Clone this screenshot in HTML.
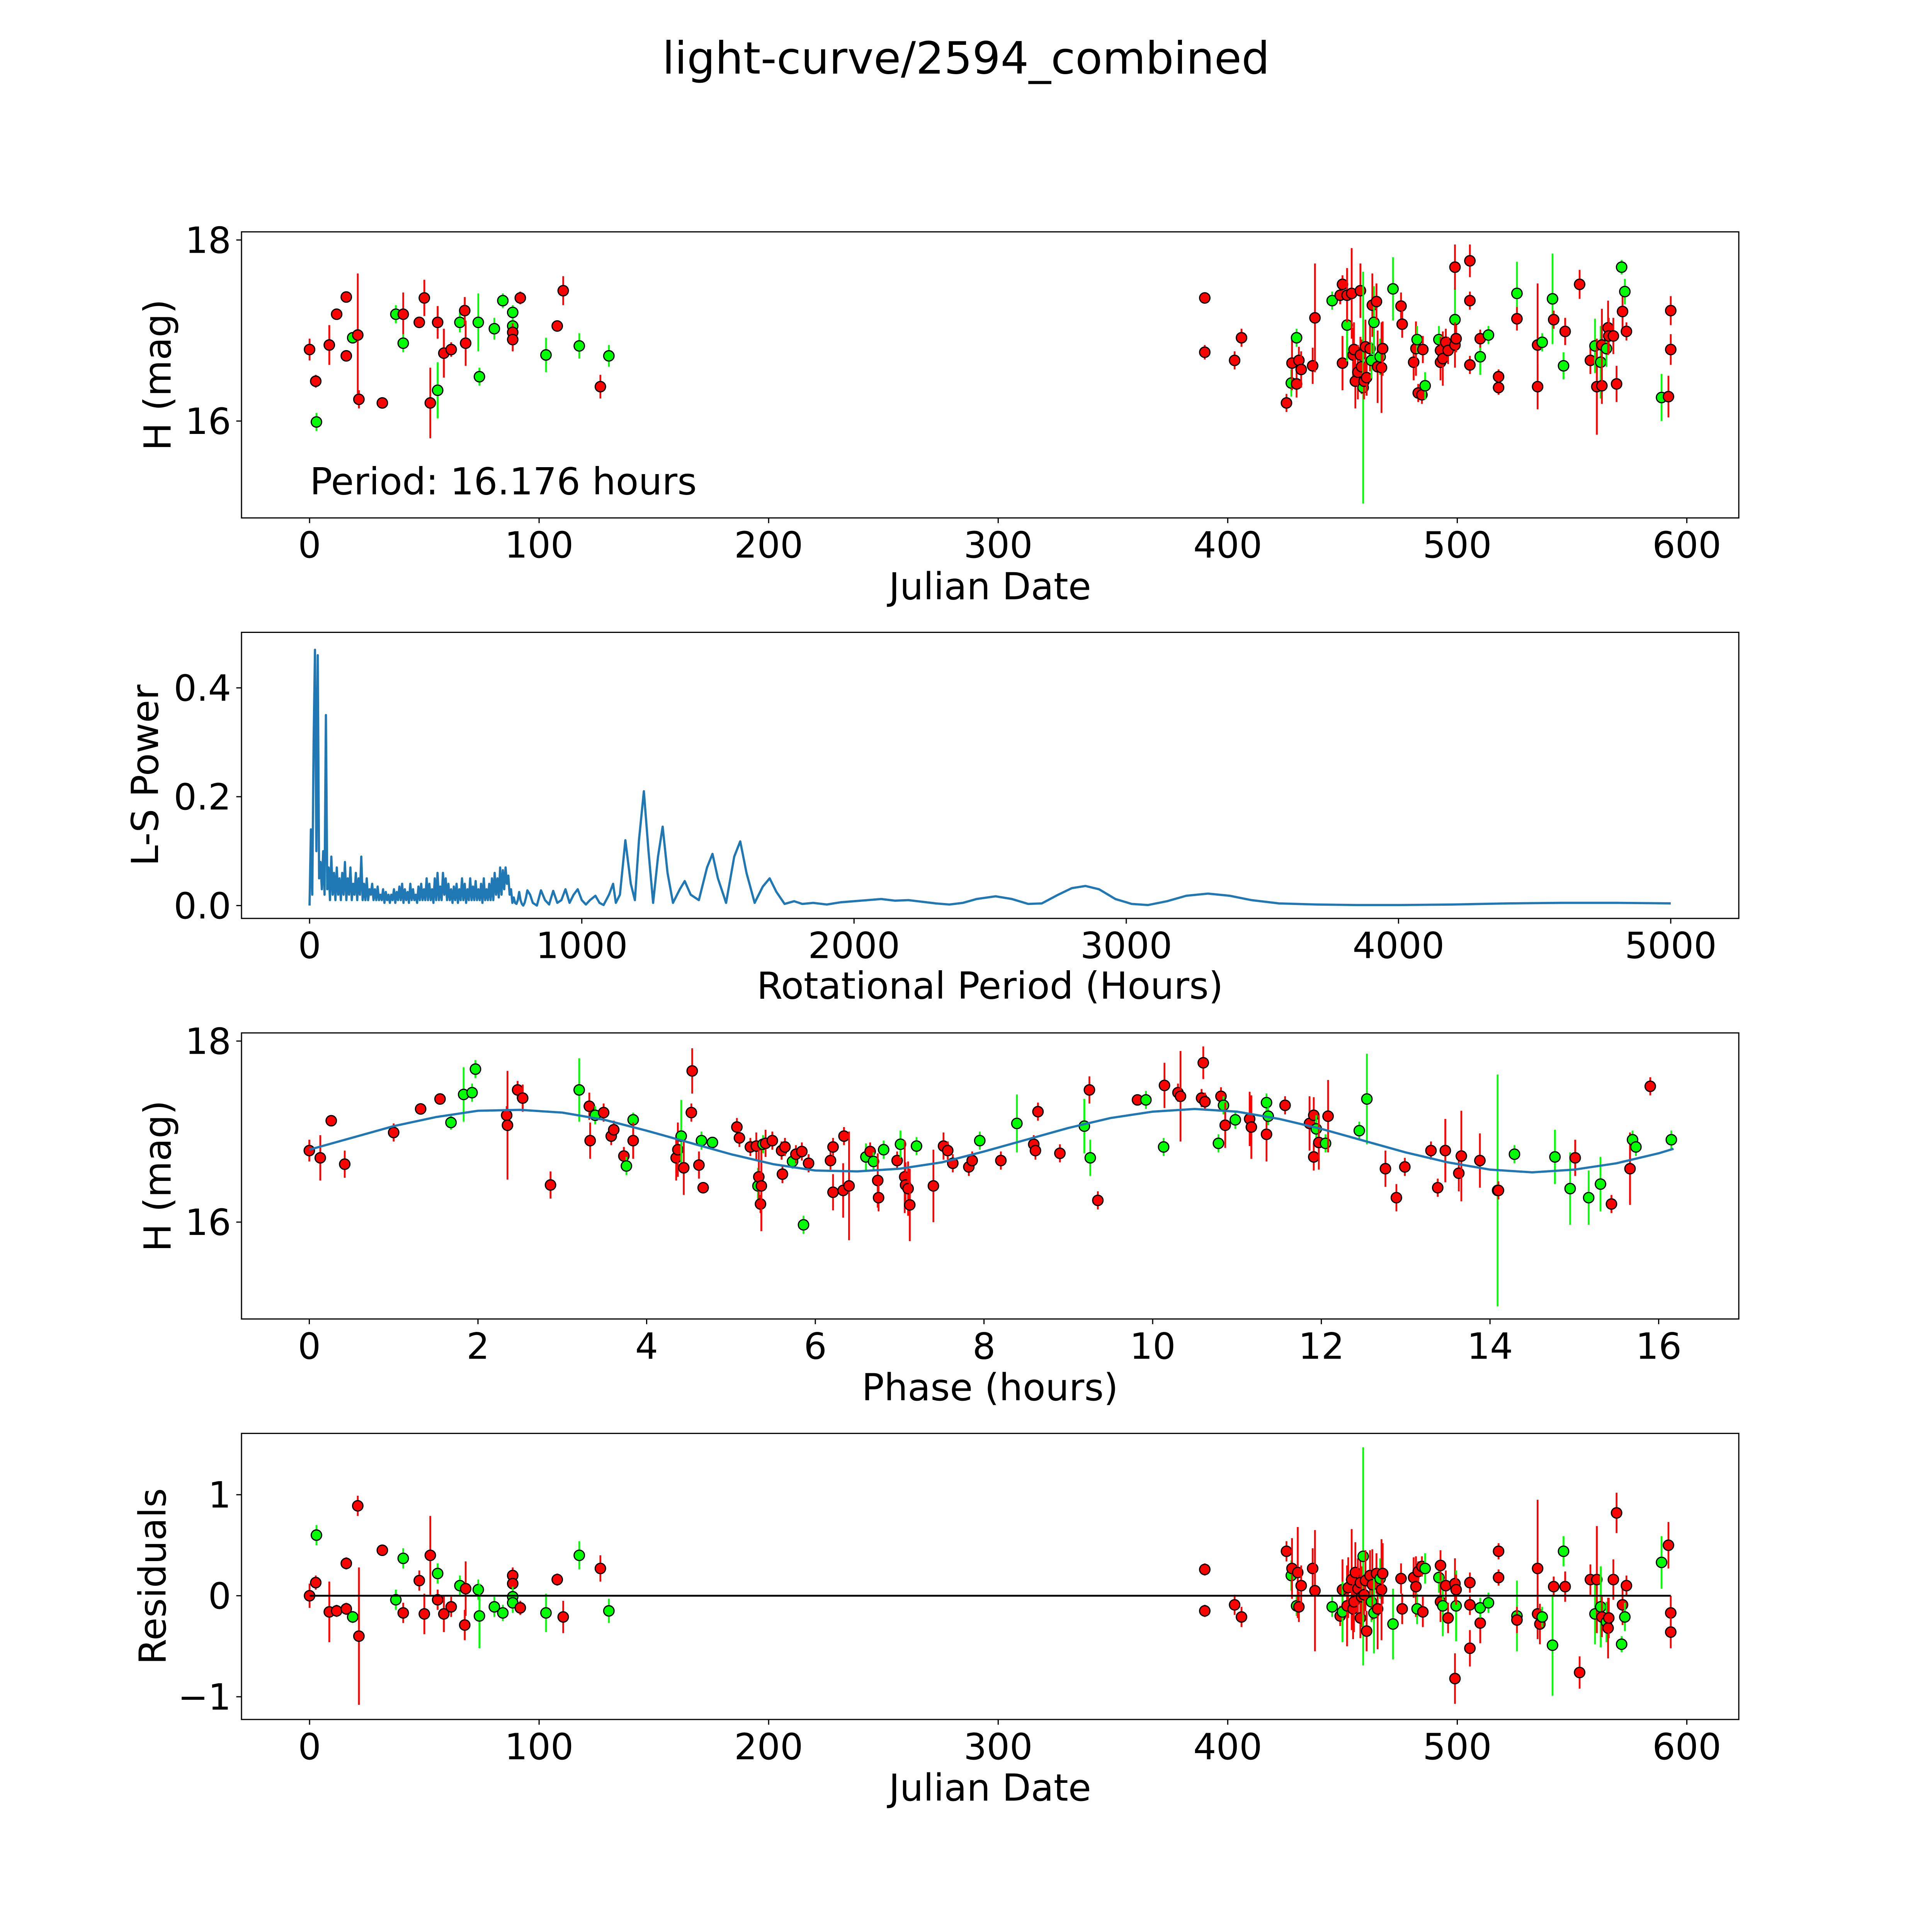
<!DOCTYPE html>
<html><head><meta charset="utf-8"><title>light-curve/2594_combined</title>
<style>html,body{margin:0;padding:0;background:#fff;width:100%;height:100%;overflow:hidden}svg{display:block;width:100vw;height:100vh}text{font-family:"DejaVu Sans","Liberation Sans",sans-serif;fill:#000}</style>
</head><body>
<svg id="fig" xmlns="http://www.w3.org/2000/svg" viewBox="0 0 5400 5400" preserveAspectRatio="xMidYMid meet">
<rect x="0" y="0" width="5400" height="5400" fill="#fff"/>
<text x="2700" y="206" font-size="124" text-anchor="middle">light-curve/2594_combined</text>
<g id="p1"></g>
<g id="p2"></g>
<g id="p3"></g>
<g id="p4"></g>
<text x="866" y="1382" font-size="104">Period: 16.176 hours</text>
<text x="2767" y="1675" font-size="104" text-anchor="middle">Julian Date</text>
<text x="2767" y="2791" font-size="104" text-anchor="middle">Rotational Period (Hours)</text>
<text x="2767" y="3914" font-size="104" text-anchor="middle">Phase (hours)</text>
<text x="2767" y="5033" font-size="104" text-anchor="middle">Julian Date</text>
<text transform="translate(441,1048) rotate(-90)" font-size="104" text-anchor="middle" dominant-baseline="central">H (mag)</text>
<text transform="translate(406,2167) rotate(-90)" font-size="104" text-anchor="middle" dominant-baseline="central">L-S Power</text>
<text transform="translate(441,3287) rotate(-90)" font-size="104" text-anchor="middle" dominant-baseline="central">H (mag)</text>
<text transform="translate(427,4406) rotate(-90)" font-size="104" text-anchor="middle" dominant-baseline="central">Residuals</text>
</svg>
<script>
// ---------- Panel 1: light curve ----------
const p1Dates=[0,2.7,3,8.6,11.8,16,16,18.8,21,21.5,31.7,37.6,40.8,40.8,47.8,50,52.6,55.8,55.8,58.5,61.7,65.5,67.6,68,73.5,74,80.5,84.2,88.5,88.5,88.5,88.5,91.8,103,107.9,110.5,117.5,126.7,130.4,
390,390,403,406,425.6,427.7,428,430,430,431,432,437,438,445.5,449,450,450,452,452,454,454.6,455,455.6,456.7,457.8,457.8,458.3,459,459.4,460,460.5,462,462.6,463,463.7,464.8,465.3,466.4,467,467.5,472,475.5,476,481,482,482.5,483,484.6,485,486,492,492.7,492.7,493.7,495,496,499,499,499,499.5,505.5,505.5,505.5,510,510,513.6,518,518,526,526,535,535,537,541.5,542,546.3,547,553.3,558,560,560.8,562.5,563,563,565,565.7,566,568,569.4,571.6,572,573,573.7,589,592,593,593];
const p1Mags=[16.79,16.44,15.99,16.84,17.18,17.37,16.72,16.92,16.95,16.24,16.2,17.18,17.18,16.86,17.09,17.36,16.2,17.09,16.34,16.75,16.79,17.09,17.22,16.86,17.09,16.49,17.02,17.33,17.2,17.05,16.98,16.9,17.36,16.73,17.05,17.44,16.83,16.38,16.72,
17.36,16.76,16.67,16.92,16.2,16.42,16.64,16.92,16.41,16.67,16.57,16.61,17.14,17.33,17.39,17.51,16.64,17.06,17.39,17.41,16.73,16.79,16.44,16.54,17.44,16.73,16.6,16.37,16.44,16.82,16.48,16.8,16.67,17.28,17.09,17.32,16.6,16.71,16.59,16.8,17.46,17.27,17.07,16.65,16.8,16.9,16.31,16.29,16.79,16.39,16.9,16.78,16.65,16.69,16.87,16.78,17.12,16.84,17.7,16.91,17.33,17.77,16.62,16.71,16.91,16.95,16.49,16.37,17.41,17.13,16.84,16.38,16.87,17.35,17.12,16.61,16.99,17.51,16.67,16.83,16.38,16.65,16.39,16.84,16.8,17.03,16.94,16.94,16.41,17.7,17.21,17.43,16.99,16.26,16.27,16.79,17.22];
const p1Errs=[0.12,0.07,0.1,0.22,0.06,0.06,0.06,0.06,0.68,0.1,0.05,0.1,0.24,0.1,0.05,0.2,0.39,0.18,0.31,0.27,0.08,0.11,0.15,0.25,0.32,0.1,0.12,0.08,0.08,0.08,0.1,0.13,0.07,0.19,0.06,0.16,0.14,0.13,0.12,
0.05,0.08,0.1,0.1,0.1,0.15,0.3,0.1,0.15,0.15,
0.2,0.2,0.6,0.1,0.1,0.1,0.3,0.4,0.3,0.5,
0.3,0.3,0.3,0.3,0.3,0.2,0.3,1.28,0.2,0.3,
0.2,0.25,0.2,0.35,0.4,0.2,0.4,0.2,0.5,0.3,
0.35,0.15,0.15,0.2,0.3,0.15,0.1,0.1,0.15,0.15,
0.15,0.15,0.2,0.3,0.15,0.15,0.35,0.25,0.25,0.15,
0.1,0.18,0.1,0.2,0.1,0.1,0.08,0.08,0.35,0.13,
0.68,0.25,0.1,0.5,0.1,0.15,0.15,0.16,0.15,0.3,
0.53,0.4,0.2,0.4,0.2,0.3,0.2,0.2,0.2,0.08,
0.2,0.14,0.1,0.26,0.23,0.17,0.16];
const p1Colors="rrgrrrrgrrrgrgrrrrgrrgrrggggggrrrgrrgrg"+"rrrrrgrgrr"+"rrrgrrrgrr"+"rrrrrrrgrr"+"rrgrgrrgrr"+"grrrrgrrrg"+"grrrrrgrrr"+"rrrgrgrrgr"+"rrggrgrrrg"+"rgrrgrrrrg"+"rgrgrrr";

// ---------- Panel 2: periodogram ----------
const lsPeriods=[0,5,10,15,20,25,30,35,40,45,50,55,60,65,70,75,80,85,90,95,100,105,110,115,120,125,130,135,140,145,150,155,160,165,170,175,180,185,190,195,200,205,210,215,220,225,230,235,240,245,250,255,260,265,270,275,280,285,290,295,300,305,310,315,320,325,330,335,340,345,350,355,360,365,370,375,380,385,390,395,400,405,410,415,420,425,430,435,440,445,450,455,460,465,470,475,480,485,490,495,500,505,510,515,520,525,530,535,540,545,550,555,560,565,570,575,580,585,590,595,600,605,610,615,620,625,630,635,640,645,650,655,660,665,670,675,680,685,690,695,700,705,710,715,720,725,730,735,740,745,750,755,760,765,770,775,780,785,790,795,800,
810,820,835,850,865,880,895,910,925,940,955,970,985,1000,1015,1030,1050,1065,1080,1100,1115,1125,1140,1160,1180,1195,1210,1228,1245,1262,1280,1297,1315,1335,1360,1378,1400,1430,1460,1480,1500,1530,1560,1582,1605,1635,1665,1690,1715,1745,1780,1810,1850,1900,1950,2000,2050,2100,2150,2200,2250,2300,2350,2400,2450,2520,2580,2640,2690,2750,2800,2850,2900,2960,3020,3080,3150,3220,3300,3380,3460,3560,3700,3850,4000,4200,4400,4600,4800,5000];
const lsPower=[0.0,0.14,0.02,0.3,0.47,0.1,0.46,0.05,0.08,0.03,0.1,0.02,0.35,0.03,0.07,0.01,0.09,0.02,0.06,0.01,0.07,0.02,0.05,0.01,0.06,0.02,0.08,0.01,0.05,0.02,0.07,0.01,0.04,0.02,0.06,0.01,0.05,0.02,0.09,0.01,0.04,0.01,0.05,0.01,0.03,0.02,0.04,0.01,0.03,0.01,0.035,0.01,0.02,0.01,0.03,0.005,0.025,0.01,0.02,0.005,0.02,0.01,0.03,0.005,0.025,0.01,0.035,0.01,0.04,0.005,0.03,0.01,0.025,0.005,0.04,0.01,0.03,0.01,0.02,0.005,0.035,0.01,0.04,0.01,0.03,0.01,0.05,0.01,0.04,0.01,0.03,0.005,0.05,0.01,0.06,0.01,0.035,0.01,0.06,0.02,0.05,0.01,0.04,0.01,0.03,0.005,0.035,0.01,0.04,0.005,0.03,0.01,0.05,0.01,0.04,0.005,0.03,0.01,0.05,0.01,0.035,0.01,0.045,0.01,0.03,0.01,0.04,0.005,0.05,0.01,0.03,0.01,0.04,0.01,0.05,0.01,0.06,0.02,0.05,0.015,0.07,0.02,0.065,0.03,0.07,0.04,0.055,0.02,0.03,0.005,0.015,0.005,0.003,0.01,0.025,0.01,0.003,0.0,0.005,0.015,0.028,
0.02,0.005,0.0,0.028,0.01,0.002,0.027,0.005,0.01,0.03,0.005,0.02,0.03,0.01,0.002,0.01,0.018,0.005,0.001,0.02,0.04,0.005,0.02,0.12,0.04,0.01,0.12,0.21,0.1,0.005,0.09,0.145,0.06,0.005,0.03,0.045,0.02,0.01,0.07,0.095,0.05,0.005,0.09,0.118,0.06,0.005,0.035,0.05,0.025,0.003,0.008,0.003,0.005,0.002,0.006,0.008,0.01,0.012,0.009,0.01,0.007,0.004,0.002,0.005,0.012,0.017,0.012,0.003,0.004,0.02,0.032,0.036,0.03,0.012,0.003,0.001,0.008,0.018,0.022,0.018,0.01,0.004,0.002,0.001,0.001,0.002,0.004,0.005,0.005,0.004];

// ---------- Panel 3: phase-folded ----------
const p3Phase=[0,0.13,0.26,0.42,1.0,1.32,1.55,1.68,1.83,1.93,1.97,2.34,2.35,2.47,2.53,2.86,3.2,3.32,3.33,3.39,3.49,3.58,3.61,3.73,3.76,3.84,3.84,4.35,4.37,4.41,4.44,4.53,4.54,4.62,4.65,4.67,4.78,5.07,5.1,5.23,5.3,5.32,5.33,5.35,5.36,5.38,5.41,5.49,5.6,5.61,5.64,5.73,5.77,5.86,5.84,5.92,6.18,6.21,6.21,6.33,6.34,6.4,6.6,6.65,6.69,6.74,6.75,6.81,6.97,7.01,7.06,7.07,7.1,7.12,7.2,7.4,7.52,7.57,7.63,7.82,7.86,7.95,8.2,8.39,8.59,8.61,8.64,8.9,9.19,9.25,9.26,9.35,9.82,9.92,10.13,10.14,10.3,10.33,10.58,10.6,10.62,10.78,10.81,10.84,10.86,10.98,11.15,11.17,11.35,11.35,11.37,11.57,11.86,11.91,11.91,11.94,11.97,12.05,12.08,12.45,12.54,12.76,12.89,12.99,13.3,13.38,13.47,13.63,13.66,13.88,14.09,14.1,14.29,14.77,14.95,15.01,15.17,15.31,15.44,15.66,15.69,15.73,15.9,16.15];
const p3Mags=[16.79,16.71,17.12,16.64,16.99,17.25,17.36,17.1,17.41,17.43,17.69,17.18,17.07,17.46,17.37,16.41,17.46,17.28,16.9,17.18,17.21,16.95,17.02,16.73,16.62,17.13,16.9,16.71,16.8,16.95,16.6,17.21,17.67,16.63,16.9,16.38,16.88,17.05,16.93,16.83,16.84,16.4,16.5,16.2,16.4,16.86,16.87,16.9,16.79,16.53,16.83,16.67,16.75,15.97,16.78,16.65,16.68,16.83,16.33,16.35,16.95,16.4,16.72,16.78,16.67,16.46,16.27,16.8,16.68,16.86,16.5,16.41,16.37,16.19,16.84,16.4,16.84,16.79,16.65,16.61,16.68,16.9,16.68,17.09,16.86,16.79,17.22,16.76,17.06,17.46,16.71,16.24,17.35,17.35,16.83,17.51,17.43,17.39,17.37,17.76,17.33,16.87,17.39,17.29,17.07,17.13,17.14,17.05,16.97,17.32,17.17,17.29,17.09,17.18,16.72,17.03,16.88,16.87,17.17,17.01,17.36,16.59,16.27,16.61,16.79,16.38,16.79,16.54,16.73,16.68,16.35,16.35,16.75,16.72,16.37,16.71,16.27,16.42,16.2,16.59,16.91,16.83,17.5,16.91];
const p3Errs=[0.12,0.25,0.06,0.15,0.1,0.06,0.06,0.08,0.3,0.1,0.1,
0.1,0.6,0.1,0.15,0.15,0.35,0.15,0.2,0.1,0.1,0.1,0.1,0.1,0.1,0.08,0.2,
0.25,0.3,0.4,0.3,0.1,0.25,0.15,0.1,0.06,0.05,
0.1,0.1,0.1,0.15,0.2,0.3,0.1,0.5,0.1,0.15,0.1,0.1,0.1,0.1,0.08,0.1,0.1,0.1,0.1,
0.1,0.1,0.2,0.3,0.1,0.6,0.15,0.1,0.1,0.3,0.15,0.1,0.1,0.15,0.4,0.25,0.3,0.4,0.1,0.4,0.15,0.1,0.1,0.1,0.1,0.1,
0.1,0.32,0.1,0.1,0.1,0.1,0.3,0.15,0.2,0.1,0.05,0.1,0.1,0.25,0.1,0.5,0.1,0.18,0.1,0.1,0.1,0.1,0.25,0.1,0.3,0.35,0.3,0.1,0.1,
0.1,0.3,0.2,0.15,0.15,0.3,0.1,0.4,0.1,0.5,0.2,0.15,0.1,0.1,0.1,0.35,0.2,0.5,0.3,1.28,0.1,0.1,0.3,0.4,0.2,0.3,0.3,0.1,0.4,0.1,0.1,0.1,0.1];
const p3Colors="rrrrrrrgggg"+"rrrrrgrrgrrrrggr"+"rrgrrrrgrg"+"rrrrgrrrgrrrrrgrgrr"+"rrrrrrgrgrrgrgrrrrgrrrrrrg"+"rgrrrrgrgrrggrrrrrrgrgrgrrrgg"+"rrrrgrgrgg"+"rrrrrrrrr"+"grgggrggrrggrg";
const modelPhase=[0,0.5,1,1.5,2,2.5,3,3.5,4,4.5,5,5.5,6,6.5,7,7.5,8,8.5,9,9.5,10,10.5,11,11.5,12,12.5,13,13.5,14,14.5,15,15.5,16,16.176];
const modelMag=[16.80,16.93,17.06,17.16,17.23,17.24,17.21,17.13,17.01,16.88,16.75,16.64,16.57,16.56,16.59,16.66,16.78,16.91,17.04,17.15,17.22,17.25,17.22,17.14,17.03,16.90,16.77,16.66,16.58,16.55,16.58,16.65,16.76,16.81];

// ---------- Panel 4: residuals ----------
const p4Dates=[0,2.7,3,8.6,11.8,16,16,18.8,21,21.5,31.7,37.6,40.8,40.8,47.8,50,52.6,55.8,55.8,58.5,61.7,65.5,67.6,68,73.5,74,80.5,84.2,88.5,88.5,88.5,88.5,91.8,103,107.9,110.5,117.5,126.7,130.4,
390,390,403,406,425.6,427.7,428,430,430.5,431,
432,437,438,445.5,449,450,450,452,452.5,454,
454.6,455,455.6,456.7,457.8,457.8,458.3,459,459.4,460,
460.5,462,462.6,463,463.7,464.8,465.3,466.4,467,467.5,
472,475.5,476,481,482,482.5,483,484.6,485,486,
492,492.7,492.7,493.7,495,496,499,499,499.5,499.5,
505.5,505.5,505.5,510,510,513.6,518,518,526,526,
535,535,536,537,541.5,542,546.3,547,553.3,558,
560,560.8,562.5,563,565,565.7,566,568,569.4,571.6,
572,573,573.7,589,592,593,593];
const p4Resid=[0.0,0.13,0.6,-0.16,-0.15,0.32,-0.13,-0.21,0.89,-0.4,0.45,-0.04,0.37,-0.17,0.15,-0.18,0.4,0.22,-0.04,-0.18,-0.11,0.1,-0.29,0.07,0.06,-0.2,-0.11,-0.17,0.2,0.12,-0.01,-0.07,-0.12,-0.17,0.16,-0.21,0.4,0.27,-0.15,
0.26,-0.15,-0.09,-0.21,0.44,0.2,0.27,-0.1,0.23,-0.11,
0.1,0.27,0.05,-0.11,-0.2,0.06,-0.16,-0.1,0.08,0.16,
-0.13,-0.06,0.23,0.07,0.13,-0.22,-0.01,0.39,0.01,0.15,
-0.35,0.2,-0.06,0.11,-0.17,0.22,-0.13,0.17,0.06,0.22,
-0.28,0.17,-0.13,0.18,0.09,-0.13,0.24,0.29,-0.16,0.27,
0.18,0.3,-0.06,-0.1,0.1,-0.22,0.12,-0.82,-0.1,0.06,
0.13,-0.52,-0.09,-0.27,-0.12,-0.07,0.44,0.18,-0.2,-0.24,
0.27,-0.18,-0.28,-0.21,-0.49,0.09,0.44,0.09,-0.76,0.16,
-0.18,0.16,-0.11,-0.21,-0.26,-0.32,-0.22,0.16,0.82,-0.48,
-0.09,-0.21,0.1,0.33,0.5,-0.17,-0.36];
const p4Errs=[0.12,0.07,0.1,0.3,0.06,0.06,0.06,0.06,0.1,0.68,0.05,0.1,0.1,0.1,0.1,0.2,0.39,0.1,0.1,0.18,0.1,0.1,0.15,0.27,0.1,0.32,0.1,0.08,0.08,0.08,0.1,0.1,0.07,0.19,0.06,0.16,0.14,0.13,0.12,
0.06,0.06,0.1,0.1,0.1,0.15,0.3,0.1,0.45,0.15,
0.2,0.2,0.6,0.1,0.1,0.3,0.3,0.4,0.3,0.5,
0.3,0.3,0.3,0.3,0.3,0.2,0.3,1.08,0.2,0.3,
0.2,0.25,0.2,0.35,0.4,0.2,0.4,0.2,0.5,0.3,
0.35,0.15,0.15,0.2,0.3,0.15,0.1,0.1,0.15,0.15,
0.15,0.15,0.2,0.3,0.15,0.15,0.25,0.25,0.35,0.15,
0.1,0.18,0.1,0.2,0.1,0.1,0.08,0.08,0.35,0.13,
0.68,0.25,0.2,0.1,0.5,0.1,0.15,0.15,0.16,0.15,
0.3,0.53,0.4,0.2,0.2,0.3,0.2,0.2,0.2,0.08,
0.2,0.14,0.1,0.26,0.23,0.17,0.16];
const p4Colors="rrgrrrrgrrrggrrrrgrrrgrrggggrrggrgrrgrg"+"rrrrrgrgrr"+"rrrgrrgrrr"+"rrrrrrrgrr"+"rrgrgrrgrr"+"grrrrgrrrg"+"grrgrrrrgr"+"rrrrggrrgr"+"rrrggrgrrr"+"grgrgrrrrg"+"rgrgrrr";

const xTicks1=[0,100,200,300,400,500,600];
const yTicks1=[16,18];
const xTicks2=[0,1000,2000,3000,4000,5000];
const yTicks2=[0.0,0.2,0.4];
const yTickLabels2=["0.0","0.2","0.4"];
const xTicks3=[0,2,4,6,8,10,12,14,16];
const yTicks4=[-1,0,1];
const yTickLabels4=["\u22121","0","1"];

const NS="http://www.w3.org/2000/svg";
const L=675,R=4860,W=R-L,H=799.6;
const TOPS=[648,1767.4,2887,4006.4];
function mk(tag,attrs,parent){const e=document.createElementNS(NS,tag);for(const k in attrs)e.setAttribute(k,attrs[k]);parent.appendChild(e);return e;}
function lin(d0,d1,r0,r1){return v=>r0+(v-d0)/(d1-d0)*(r1-r0);}
const COL={r:"#ff0000",g:"#00ff00"};

function axes(g,top,xs,ys,xt,xl,yt,yl){
  const bottom=top+H;
  xt.forEach((t,i)=>{const x=xs(t);
    const tk=mk('line',{x1:x,x2:x,y1:bottom,y2:bottom+14.6,stroke:'#000','stroke-width':3.3},g);
    
    
    const tx=mk('text',{x:x,y:bottom+111,'font-size':101,'text-anchor':'middle'},g);
    tx.textContent=xl?xl[i]:String(t);
    
    });
  yt.forEach((t,i)=>{const y=ys(t);
    const tk=mk('line',{x1:L-14.6,x2:L,y1:y,y2:y,stroke:'#000','stroke-width':3.3},g);
    
    
    const tx=mk('text',{x:L-29,y:y+36,'font-size':101,'text-anchor':'end'},g);
    tx.textContent=yl?yl[i]:String(t);
    
    });
}
function frame(g,top){const f=mk('rect',{x:L,y:top,width:W,height:H,fill:'none',stroke:'#000','stroke-width':3.3},g);
  
  }
function errpts(g,xs,ys,X,Y,E,C){
  for(let i=0;i<X.length;i++){
    const c=COL[C[i]]||COL.r,x=xs(X[i]),e=E[i]===undefined?0.1:E[i];
    const ln=mk('line',{x1:x,x2:x,y1:ys(Y[i]-e),y2:ys(Y[i]+e),stroke:c,'stroke-width':5},g);
    
    
    const ci=mk('circle',{cx:x,cy:ys(Y[i]),r:14.5,fill:c,stroke:'#000','stroke-width':3.3},g);
    
    
  }
}
// panel 1
(function(){const g=document.getElementById('p1'),t=TOPS[0];
  const xs=lin(-29.65,622.65,L,R),ys=lin(18.09,14.93,t,t+H);
  axes(g,t,xs,ys,xTicks1,null,yTicks1,null);
  errpts(g,xs,ys,p1Dates,p1Mags,p1Errs,p1Colors);frame(g,t);})();
// panel 2
(function(){const g=document.getElementById('p2'),t=TOPS[1];
  const xs=lin(-250,5250,L,R),ys=lin(0.502,-0.0236,t,t+H);
  axes(g,t,xs,ys,xTicks2,null,yTicks2,yTickLabels2);
  const d=lsPeriods.map((p,i)=>(i?'L':'M')+xs(p).toFixed(1)+' '+ys(lsPower[i]).toFixed(1)).join('');
  const pl=mk('path',{d:d,fill:'none',stroke:'#1f77b4','stroke-width':6.25,'stroke-linejoin':'round'},g);
  
  
  frame(g,t);})();
// panel 3
(function(){const g=document.getElementById('p3'),t=TOPS[2];
  const xs=lin(-0.804,16.95,L,R),ys=lin(18.09,14.93,t,t+H);
  axes(g,t,xs,ys,xTicks3,null,yTicks1,null);
  errpts(g,xs,ys,p3Phase,p3Mags,p3Errs,p3Colors);
  const d=modelPhase.map((p,i)=>(i?'L':'M')+xs(p).toFixed(1)+' '+ys(modelMag[i]).toFixed(1)).join('');
  const pl=mk('path',{d:d,fill:'none',stroke:'#1f77b4','stroke-width':6.25,'stroke-linejoin':'round'},g);
  
  
  frame(g,t);})();
// panel 4
(function(){const g=document.getElementById('p4'),t=TOPS[3];
  const xs=lin(-29.65,622.65,L,R),ys=lin(1.607,-1.225,t,t+H);
  axes(g,t,xs,ys,xTicks1,null,yTicks4,yTickLabels4);
  errpts(g,xs,ys,p4Dates,p4Resid,p4Errs,p4Colors);
  const z=mk('line',{x1:xs(0),x2:xs(593),y1:ys(0),y2:ys(0),stroke:'#000','stroke-width':5},g);
  
  
  frame(g,t);})();
</script>
</body></html>
